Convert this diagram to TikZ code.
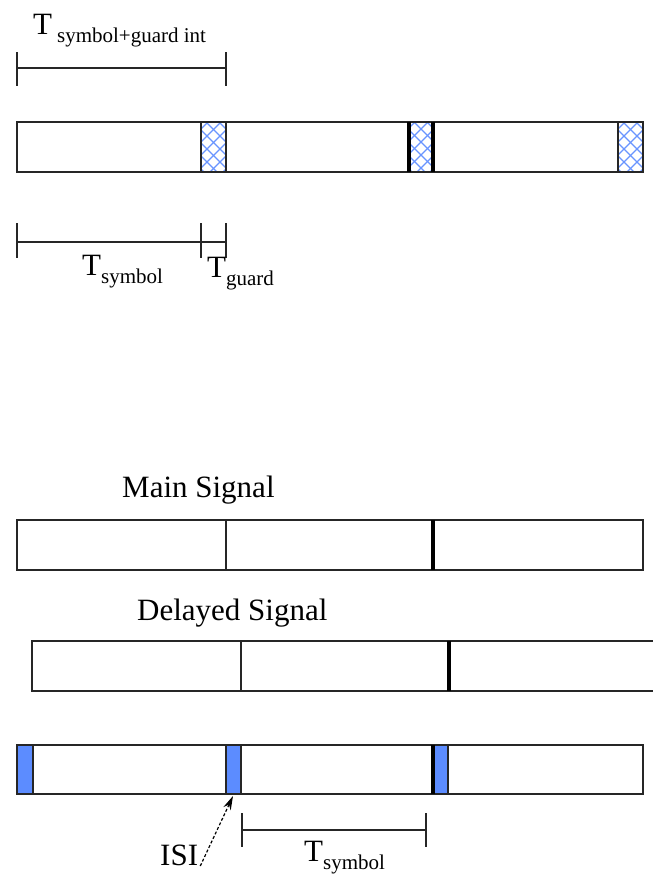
\documentclass[tikz,border=0pt]{standalone}
\usepackage{fontspec}
\setmainfont{Liberation Serif}
\usetikzlibrary{arrows.meta}
\definecolor{isiblue}{RGB}{92,140,255}
\definecolor{hatchblue}{RGB}{105,148,255}
\newcommand\lowsub[1]{\raisebox{-8pt}{\fontsize{21}{24}\selectfont #1}}
\begin{document}
\begin{tikzpicture}[x=1pt,y=-1pt,
  outline/.style={draw=black!85,line width=1.6pt},
  thindiv/.style={draw=black!85,line width=1.6pt},
  thickdiv/.style={draw=black,line width=3.4pt},
  dimline/.style={draw=black!85,line width=1.4pt},
  hatchline/.style={draw=hatchblue,line width=1.1pt},
  isicell/.style={fill=isiblue},
  label/.style={font=\fontsize{31}{36}\selectfont,inner sep=0pt,anchor=base west},
  isiarrow/.style={draw=black,line width=1.2pt,dash pattern=on 3pt off 2pt,
    -{Stealth[length=14pt,width=8pt]}}
]
\fill[white] (0,0) rectangle (653,876);
\useasboundingbox (0,0) rectangle (653,876);

% ---------- symbols with guard intervals ----------
\node[label] (tsg) at (33,34) {T\hspace{5pt}\lowsub{symbol+guard int}};
\coordinate (sgL) at (17,68);
\coordinate (sgR) at (226,68);
\draw[dimline] (sgL) -- (sgR);
\draw[dimline] (sgL) ++(0,-16) -- ++(0,34);
\draw[dimline] (sgR) ++(0,-16) -- ++(0,34);

% guard cells, cross-hatched
\foreach \gl/\gr in {201/226,409/433,618/643}{
  \begin{scope}
    \clip (\gl,122) rectangle (\gr,172);
    \foreach \k in {-60,-47,...,60}{
      \draw[hatchline] (\gl+\k,122) -- ++(50,50);
      \draw[hatchline] (\gr-\k,122) -- ++(-50,50);
    }
  \end{scope}
}
\draw[outline] (17,122) rectangle (643,172);
\foreach \x in {201,226,618}{\draw[thindiv] (\x,122) -- (\x,172);}
\foreach \x in {409,433}{\draw[thickdiv] (\x,122) -- (\x,172);}

\coordinate (syL) at (17,242);
\coordinate (syR) at (201,242);
\coordinate (guR) at (226,242);
\draw[dimline] (syL) -- (guR);
\foreach \c in {syL,syR,guR}{\draw[dimline] (\c) ++(0,-19) -- ++(0,35);}
\node[label] (tsym) at (82,275) {T\lowsub{symbol}};
\node[label] (tguard) at (207,277) {T\lowsub{guard}};

% ---------- main signal ----------
\node[label] (mainlbl) at (122,497) {Main Signal};
\draw[outline] (17,520) rectangle (643,570);
\draw[thindiv] (226,520) -- (226,570);
\draw[thickdiv] (433,520) -- (433,570);

% ---------- delayed signal ----------
\node[label] (dellbl) at (137,620) {Delayed Signal};
\draw[outline] (660,641) -- (32,641) -- (32,691) -- (660,691);
\draw[thindiv] (241,641) -- (241,691);
\draw[thickdiv] (449,641) -- (449,691);

% ---------- received signal with ISI ----------
\foreach \bl/\br in {17/33,226/241,433/448}{
  \fill[isicell] (\bl,745) rectangle (\br,794);
}
\draw[outline] (17,745) rectangle (643,794);
\foreach \x in {33,226,241,448}{\draw[thindiv] (\x,745) -- (\x,794);}
\draw[thickdiv] (433,745) -- (433,794);

\node[label] (isi) at (160,865) {ISI};
\coordinate (isitip) at (233,796);
\draw[isiarrow] (isi.base east) ++(2,1) -- (isitip);

\coordinate (rsL) at (242,830);
\coordinate (rsR) at (426,830);
\draw[dimline] (rsL) -- (rsR);
\draw[dimline] (rsL) ++(0,-17) -- ++(0,34);
\draw[dimline] (rsR) ++(0,-17) -- ++(0,34);
\node[label] (tsym2) at (304,861) {T\lowsub{symbol}};
\end{tikzpicture}
\end{document}
